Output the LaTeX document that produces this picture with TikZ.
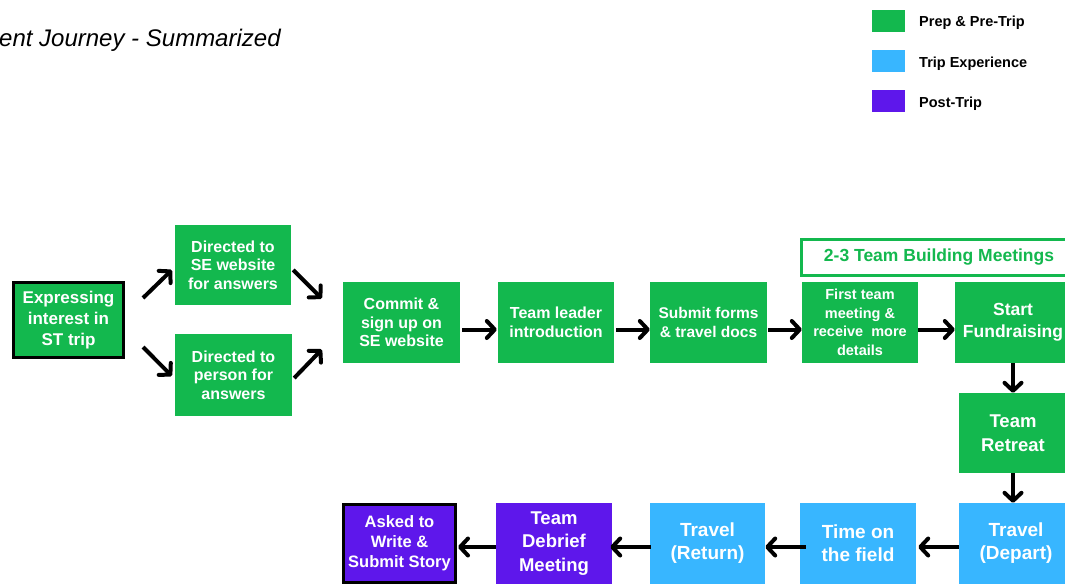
\documentclass[tikz,border=0pt]{standalone}
\usepackage{fontspec}
\setmainfont{Liberation Sans}
\usetikzlibrary{arrows.meta,calc}

\definecolor{prepgreen}{HTML}{13B84E}
\definecolor{tripblue}{HTML}{38B6FF}
\definecolor{postpurple}{HTML}{5E17EB}

\begin{document}
\begin{tikzpicture}[x=1pt, y=-1pt,
    box/.style = {rectangle, inner sep=0pt, align=center, text=white,
                  font=\bfseries\fontsize{16}{18.5}\selectfont},
    prep/.style = {box, fill=prepgreen},
    trip/.style = {box, fill=tripblue, font=\bfseries\fontsize{19}{23}\selectfont},
    post/.style = {box, fill=postpurple},
    bigtext/.style = {font=\bfseries\fontsize{18.5}{23.5}\selectfont},
    framed/.style = {draw=black, line width=3pt},
    legend/.style = {rectangle, inner sep=0pt, minimum width=33pt, minimum height=22pt},
    legendtext/.style = {anchor=west, inner sep=0pt, font=\bfseries\fontsize{14.5}{16}\selectfont},
    arr/.style = {line width=4pt, -{Straight Barb[length=8pt, width=17pt, round]}}]

  \path[use as bounding box, clip] (0,0) rectangle (1065,584);

  % subtitle (title is cut off)
  \node[anchor=base west, inner sep=0pt, font=\itshape\fontsize{24}{28}\selectfont] (subtitle) at (-1,46) {ent Journey - Summarized};

  % legend
  \node[legend, fill=prepgreen] (legprep) at (888.5,21) {};
  \node[legend, fill=tripblue] (legtrip) at (888.5,61) {};
  \node[legend, fill=postpurple] (legpost) at (888.5,101) {};
  \node[legendtext] (legpreptext) at (919,23) {Prep \& Pre-Trip};
  \node[legendtext] (legtriptext) at (919,64) {Trip Experience};
  \node[legendtext] (legposttext) at (919,104) {Post-Trip};

  % top row
  \node[prep, framed, minimum width=110pt, minimum height=75pt, font=\bfseries\fontsize{17}{21}\selectfont] (interest) at (68.5,320) {Expressing\\interest in\\ST trip};
  \node[prep, minimum width=116pt, minimum height=80pt] (website) at (233,265) {Directed to\\SE website\\for answers};
  \node[prep, minimum width=117pt, minimum height=82pt] (person) at (233.5,375) {Directed to\\person for\\answers};
  \node[prep, minimum width=117pt, minimum height=81pt] (commit) at (401.5,322.5) {Commit \&\\sign up on\\SE website};
  \node[prep, minimum width=116pt, minimum height=81pt] (leader) at (556,322.5) {Team leader\\introduction};
  \node[prep, minimum width=117pt, minimum height=81pt, font=\bfseries\fontsize{15.5}{18.5}\selectfont] (forms) at (708.5,322.5) {Submit forms\\\& travel docs};
  \node[prep, minimum width=116pt, minimum height=81pt, font=\bfseries\fontsize{14.5}{18.5}\selectfont] (firstmeet) at (860,322.5) {First team\\meeting \&\\receive~ more\\details};
  \node[prep, minimum width=116pt, minimum height=81pt, font=\bfseries\fontsize{17.5}{22}\selectfont] (fundraise) at (1013,322.5) {Start\\Fundraising};
  \node[box, fill=white, draw=prepgreen, line width=3pt, minimum width=275pt, minimum height=36pt, text=prepgreen, font=\bfseries\fontsize{17.5}{20}\selectfont] (meetings) at (939,257.5) {2-3 Team Building Meetings};

  % right column and bottom row
  \node[prep, bigtext, minimum width=108pt, minimum height=80pt] (retreat) at (1013,433) {Team\\Retreat};
  \node[trip, minimum width=114pt, minimum height=81pt] (depart) at (1016,543.5) {Travel\\(Depart)};
  \node[trip, minimum width=116pt, minimum height=81pt] (field) at (858,543.5) {Time on\\the field};
  \node[trip, minimum width=115pt, minimum height=81pt] (return) at (707.5,543.5) {Travel\\(Return)};
  \node[post, bigtext, minimum width=116pt, minimum height=81pt] (debrief) at (554,543.5) {Team\\Debrief\\Meeting};
  \node[post, framed, minimum width=112pt, minimum height=78pt, font=\bfseries\fontsize{16.5}{20}\selectfont] (story) at (399.5,543.5) {Asked to\\Write \&\\Submit Story};

  % arrows
  \draw[arr] ($(interest.east)+(18,-22)$) -- ($(website.west)+(-3,5)$);
  \draw[arr] ($(interest.east)+(18,27)$) -- ($(person.west)+(-3,1)$);
  \draw[arr] ($(website.east)+(2,5)$) -- ($(commit.west)+(-21,-24)$);
  \draw[arr] ($(person.east)+(2,3)$) -- ($(commit.west)+(-21,27)$);
  \draw[arr] ($(commit.east)+(2,7)$) -- ($(leader.west)+(-1,7)$);
  \draw[arr] ($(leader.east)+(2,7)$) -- ($(forms.west)+(0,7)$);
  \draw[arr] ($(forms.east)+(1,7)$) -- ($(firstmeet.west)+(0,7)$);
  \draw[arr] ($(firstmeet.east)+(0,7)$) -- ($(fundraise.west)+(0,7)$);
  \draw[arr] (fundraise.south) -- (retreat.north);
  \draw[arr] (retreat.south) -- ($(depart.north)+(-3,0)$);
  \draw[arr] ($(depart.west)+(0,3.5)$) -- ($(field.east)+(2,3.5)$);
  \draw[arr] ($(field.west)+(6,3.5)$) -- ($(return.east)+(0,3.5)$);
  \draw[arr] ($(return.west)+(1,3.5)$) -- ($(debrief.east)+(-2,3.5)$);
  \draw[arr] ($(debrief.west)+(0,3.5)$) -- ($(story.east)+(1,3.5)$);
\end{tikzpicture}
\end{document}
